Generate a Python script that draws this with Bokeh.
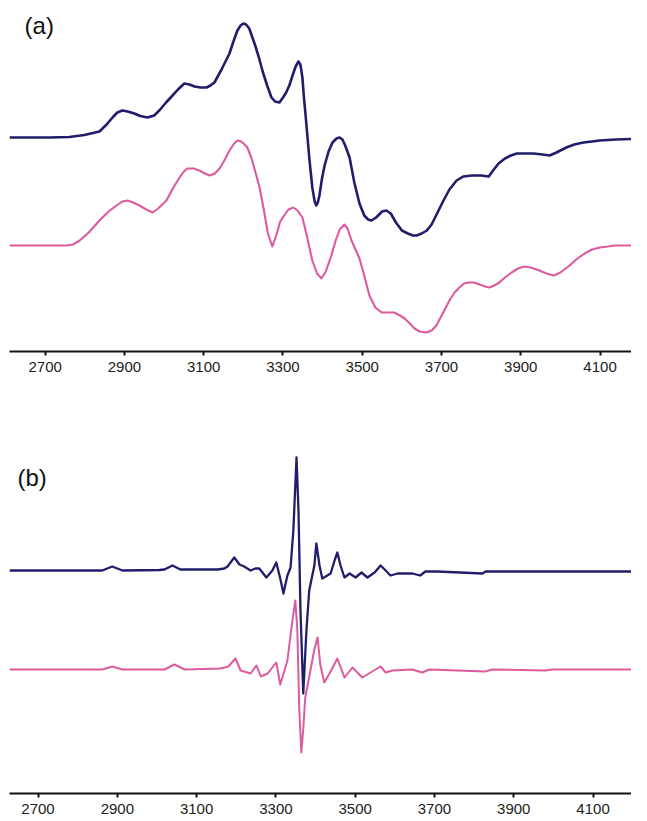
from bokeh.plotting import figure
from bokeh.layouts import column
from bokeh.models import Range1d, FixedTicker, Label
from bokeh.embed import file_html
from bokeh.resources import INLINE

# ---------------- data (magnetic field in gauss, intensity arb. units) -------------
ticks = [2700, 2900, 3100, 3300, 3500, 3700, 3900, 4100]

# panel (a) experimental (blue)
a_exp_field = [2610, 2711, 2761, 2799, 2837, 2855, 2870, 2882, 2895, 2908, 2925, 2940,
               2958, 2975, 2988, 3005, 3019, 3035, 3051, 3064, 3077, 3092, 3107, 3117,
               3127, 3145, 3165, 3175, 3185, 3193, 3200, 3207, 3215, 3222, 3230, 3240,
               3248, 3260, 3271, 3280, 3291, 3300, 3308, 3316, 3325, 3332, 3339, 3344,
               3349, 3352, 3358, 3363, 3367, 3374, 3380, 3384, 3388, 3392, 3398, 3405,
               3415, 3425, 3435, 3443, 3450, 3457, 3468, 3480, 3493, 3505, 3515, 3523,
               3535, 3550, 3561, 3572, 3585, 3600, 3615, 3628, 3637, 3650, 3663, 3675,
               3690, 3705, 3720, 3738, 3755, 3776, 3800, 3819, 3830, 3844, 3860, 3875,
               3890, 3910, 3932, 3955, 3973, 3990, 4015, 4035, 4058, 4080, 4099, 4140, 4217]
a_exp_int = [0, 0, 0.5, 2.5, 6, 13, 20, 25, 27, 26, 24, 21.5,
             20, 22, 27, 35, 41, 48, 54, 53, 51, 50, 50, 52,
             55, 68, 84, 96, 107, 112, 114, 113, 109, 101, 92, 79,
             67, 52, 40, 36, 35, 40, 45, 52, 63, 71, 76, 73,
             60, 44, 18, -5, -23, -50, -64, -68, -65, -58, -42, -28,
             -14, -5, -1, 0, -2, -8, -20, -45, -66, -78, -82, -83,
             -80, -74, -73, -76, -85, -93, -96, -98, -98, -96, -93, -87,
             -75, -63, -52, -43, -39, -38, -38, -39, -33, -26, -21, -18,
             -16, -16, -16, -17, -18, -15, -10, -7, -5, -4, -3, -2, -1]

# panel (a) simulated (pink)
a_sim_field = [2610, 2754, 2770, 2787, 2810, 2837, 2860, 2880, 2895, 2908, 2922, 2938,
               2955, 2971, 2985, 3006, 3022, 3039, 3050, 3059, 3075, 3089, 3103, 3115,
               3128, 3140, 3152, 3165, 3177, 3185, 3195, 3203, 3210, 3220, 3230, 3241,
               3252, 3262, 3273, 3283, 3293, 3303, 3314, 3326, 3337, 3349, 3360, 3374,
               3386, 3397, 3408, 3422, 3433, 3443, 3455, 3463, 3473, 3483, 3493, 3505,
               3518, 3533, 3549, 3565, 3581, 3595, 3607, 3620, 3632, 3645, 3662, 3675,
               3687, 3703, 3720, 3733, 3745, 3757, 3768, 3782, 3796, 3810, 3821, 3833,
               3846, 3860, 3877, 3893, 3909, 3925, 3947, 3965, 3983, 4000, 4023, 4040,
               4061, 4080, 4099, 4120, 4137, 4217]
a_sim_int = [0, 0, 1, 5, 13, 25, 34, 40, 44, 45, 43, 40,
             36, 33, 37, 45, 57, 68, 74, 77, 77, 75, 72, 70,
             72, 77, 85, 95, 102, 105, 104, 101, 98, 88, 74, 58,
             35, 12, -1, 10, 24, 30, 36, 38, 35, 28, 10, -15,
             -28, -33, -26, -10, 5, 16, 21, 17, 5, -4, -13, -30,
             -50, -62, -67, -67, -67, -70, -73, -78, -83, -86, -87, -85,
             -80, -68, -55, -47, -42, -38, -37, -37, -39, -41, -42, -40,
             -37, -32, -27, -23, -21, -22, -25, -28, -30, -27, -20, -14,
             -8, -4, -2, -1, 0, 0]

# panel (b) experimental (blue)
b_exp_field = [2628, 2862, 2887, 2913, 3006, 3019, 3039, 3059, 3153, 3170, 3178, 3195,
               3208, 3220, 3236, 3248, 3258, 3276, 3291, 3301, 3311, 3319, 3329, 3337,
               3344, 3352, 3357, 3362, 3369, 3377, 3384, 3397, 3402, 3410, 3417, 3438,
               3448, 3455, 3463, 3473, 3486, 3501, 3516, 3531, 3549, 3564, 3577, 3589,
               3607, 3644, 3664, 3677, 3707, 3821, 3829, 3846, 4217]
b_exp_int = [0, 0, 4, 0, 0.5, 1, 5, 1, 1, 2, 4, 13,
             6, 4, 0, 2, 2, -7, 0, 8, -8, -23, -5, 3,
             40, 113, 60, -40, -123, -60, -20, 5, 27, 5, -8, -3,
             10, 18, 5, -7, -3, -7, -2, -7, -2, 5, 0, -5,
             -3, -3, -5, -1, -1, -3, -1, -1, -1]

# panel (b) simulated (pink)
b_sim_field = [2628, 2862, 2887, 2913, 3019, 3044, 3070, 3160, 3180, 3198, 3211, 3236,
               3251, 3262, 3279, 3291, 3301, 3311, 3321, 3329, 3342, 3349, 3354, 3359,
               3364, 3369, 3374, 3387, 3397, 3405, 3412, 3422, 3438, 3455, 3473, 3493,
               3518, 3543, 3564, 3577, 3594, 3644, 3669, 3687, 3828, 3846, 3980, 3997, 4217]
b_sim_int = [0, 0, 3, 0, 0, 5, 0, 1, 3, 11, -1, -4,
             4, -7, -4, 2, 7, -15, -2, 9, 50, 69, 40, -40,
             -83, -60, -28, -1, 20, 32, 5, -13, -2, 11, -8, 2,
             -8, -2, 3, -3, -1, 0, -3, 0, -2, 0, -1, 0, 0]

# vertical offsets of the stacked traces
a_exp_offset, a_sim_offset = 0, -108
b_exp_offset, b_sim_offset = 0, -99

BLUE = "#211d6b"
PINK = "#dc5a9e"
FONT = "Liberation Sans"


def style(p):
    p.grid.visible = False
    p.outline_line_color = None
    p.background_fill_color = "white"
    p.border_fill_color = "white"
    ax = p.xaxis[0]
    ax.ticker = FixedTicker(ticks=ticks)
    ax.axis_line_width = 2
    ax.axis_line_color = "#111111"
    ax.major_tick_line_width = 2
    ax.major_tick_line_color = "#111111"
    ax.major_tick_out = 4
    ax.major_tick_in = 0
    ax.minor_tick_out = 0
    ax.minor_tick_in = 0
    ax.major_label_standoff = 6
    ax.major_label_text_font = FONT
    ax.major_label_text_font_size = "15px"
    ax.major_label_text_color = "#222222"


pa = figure(frame_width=629, frame_height=351,
            x_range=Range1d(2610, 4197), y_range=Range1d(-214, 137),
            output_backend="svg", toolbar_location=None,
            y_axis_location=None,
            min_border_left=2, min_border_right=0, min_border_top=0, min_border_bottom=39)
style(pa)
pa.line(a_exp_field, [v + a_exp_offset for v in a_exp_int],
        line_color=BLUE, line_width=2.6, line_join="round")
pa.line(a_sim_field, [v + a_sim_offset for v in a_sim_int],
        line_color=PINK, line_width=2.1, line_join="round")
pa.add_layout(Label(x=2648, y=126, text="(a)", text_font=FONT, text_font_size="24px",
                    text_baseline="top", text_color="#111111"))

pb = figure(frame_width=622, frame_height=403,
            x_range=Range1d(2628, 4197), y_range=Range1d(-223, 180),
            output_backend="svg", toolbar_location=None,
            y_axis_location=None,
            min_border_left=9, min_border_right=0, min_border_top=0, min_border_bottom=26)
style(pb)
pb.line(b_sim_field, [v + b_sim_offset for v in b_sim_int],
        line_color=PINK, line_width=2, line_join="round")
pb.line(b_exp_field, [v + b_exp_offset for v in b_exp_int],
        line_color=BLUE, line_width=2.3, line_join="round")
pb.add_layout(Label(x=2648, y=107, text="(b)", text_font=FONT, text_font_size="24px",
                    text_baseline="top", text_color="#111111"))

layout = column(pa, pb, spacing=0)
open("out.html", "w").write(file_html(layout, INLINE))
